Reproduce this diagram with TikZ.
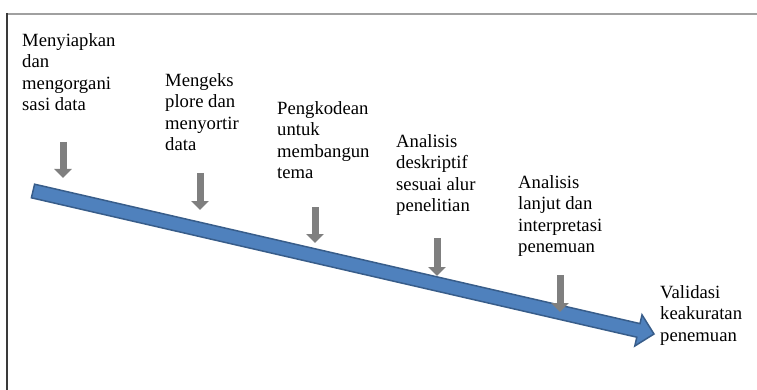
\documentclass[tikz,border=0pt]{standalone}
\usepackage{fontspec}
\setmainfont{Liberation Serif}
\usetikzlibrary{arrows.meta}

\begin{document}
\begin{tikzpicture}[x=1pt,y=-1pt,
  langkah/.style={anchor=north west, inner sep=0pt, align=left,
    font=\fontsize{18.67}{21.5}\selectfont},
  panahkecil/.style={draw=abuPanah, line width=7pt,
    -{Triangle[width=17pt,length=9pt]}}]

% Warna
\definecolor{biru}{HTML}{4F81BD}
\definecolor{biruTua}{HTML}{385D8A}
\definecolor{abuPanah}{HTML}{7F7F7F}
\definecolor{garisAtas}{HTML}{A0A0A0}
\definecolor{garisKiri}{HTML}{3A3A3A}

\useasboundingbox (0,0) rectangle (757,390);

% Bingkai
\draw[garisAtas, line width=2pt] (7,14) -- (757,14);
\draw[garisKiri, line width=1.5pt] (7,13) -- (7,390);

% Panah besar (alur analisis)
\filldraw[fill=biru, draw=biruTua, line width=1.5pt, line join=miter]
  (34.6,184.2) -- (640.0,323.6) -- (642.0,314.8) -- (654,334)
  -- (634.8,346.0) -- (636.8,337.2) -- (31.4,197.8) -- cycle;

% Tahapan
\node[langkah] (t1) at (22,33) {Menyiapkan\\dan\\mengorgani\\sasi data};
\node[langkah] (t2) at (165,73) {Mengeks\\plore dan\\menyortir\\data};
\node[langkah] (t3) at (277,101) {Pengkodean\\untuk\\membangun\\tema};
\node[langkah] (t4) at (396,134) {Analisis\\deskriptif\\sesuai alur\\penelitian};
\node[langkah] (t5) at (518,175) {Analisis\\lanjut dan\\interpretasi\\penemuan};
\node[langkah] (t6) at (660,285) {Validasi\\keakuratan\\penemuan};

% Panah kecil
\coordinate (a1) at (63,142);  \coordinate (b1) at (63,178);
\coordinate (a2) at (200,173); \coordinate (b2) at (200,210);
\coordinate (a3) at (315,207); \coordinate (b3) at (315,243);
\coordinate (a4) at (437,238); \coordinate (b4) at (437,276);
\coordinate (a5) at (560,275); \coordinate (b5) at (560,312);

\draw[panahkecil] (a1) -- (b1);
\draw[panahkecil] (a2) -- (b2);
\draw[panahkecil] (a3) -- (b3);
\draw[panahkecil] (a4) -- (b4);
\draw[panahkecil] (a5) -- (b5);

\end{tikzpicture}
\end{document}
